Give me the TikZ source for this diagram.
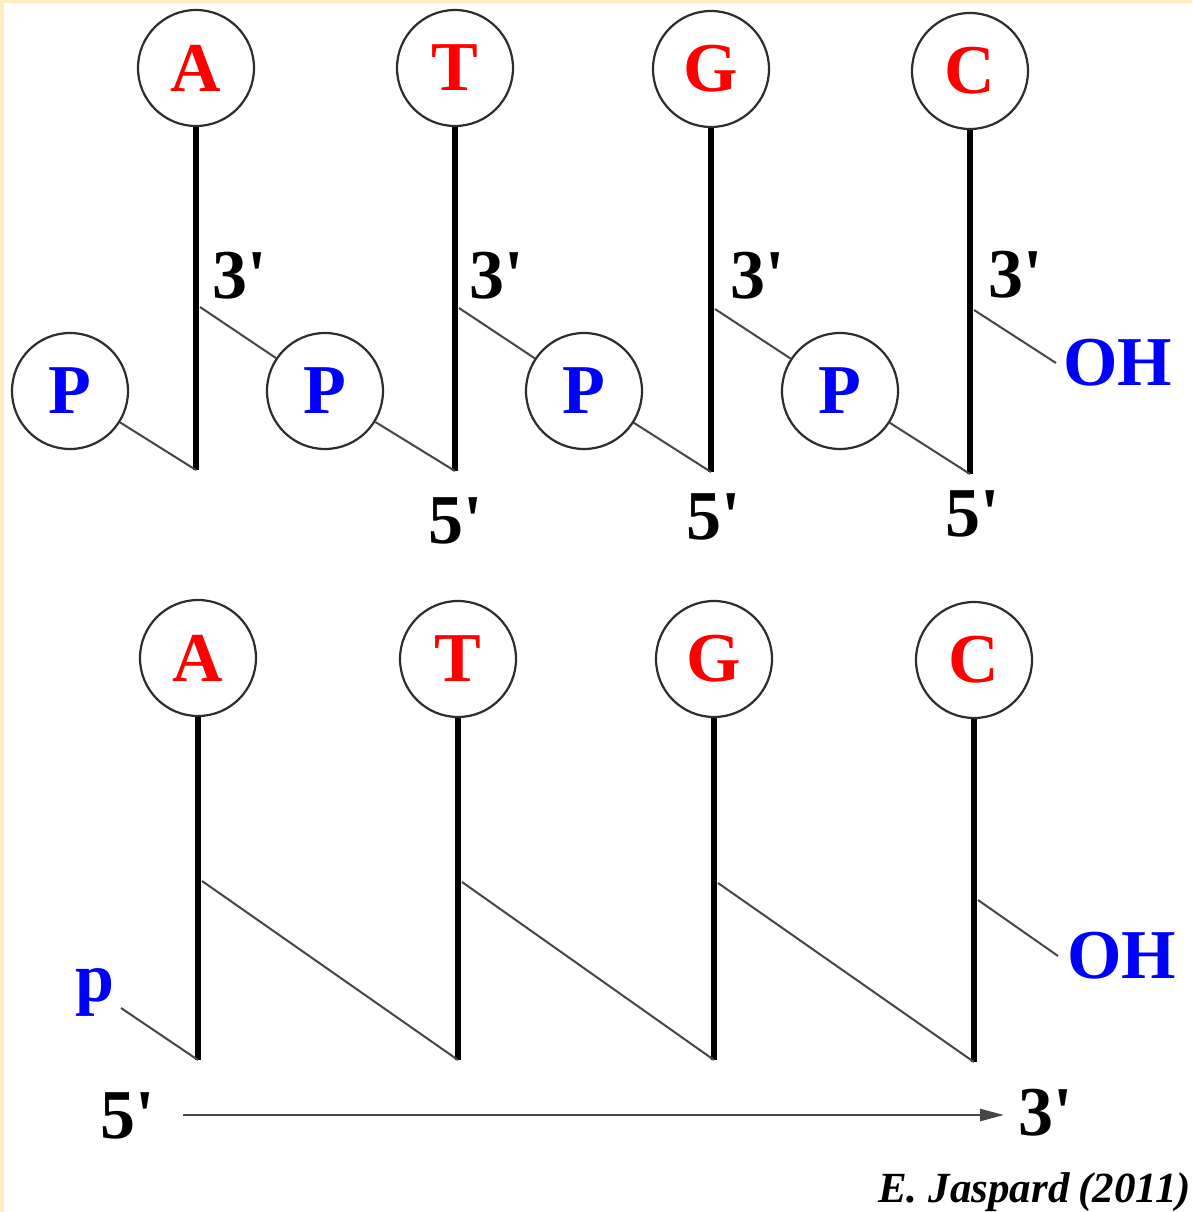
\documentclass[tikz,border=0pt]{standalone}
\usepackage{fontspec}
\newfontfamily\tf{Liberation Serif}
\usetikzlibrary{arrows.meta}
\definecolor{basecol}{RGB}{255,0,0}
\definecolor{phoscol}{RGB}{0,0,255}
\definecolor{ringcol}{RGB}{45,45,45}
\definecolor{thincol}{RGB}{70,70,70}
\definecolor{creamcol}{RGB}{252,238,192}
\begin{document}
\begin{tikzpicture}[x=1pt,y=-1pt,
  nuc/.style={circle,draw=ringcol,line width=2.2pt,minimum size=116pt,inner sep=0pt,
    font=\tf\bfseries\fontsize{70}{70}\selectfont},
  basec/.style={nuc,text=basecol},
  phosc/.style={nuc,text=phoscol},
  lbl/.style={inner sep=0pt,font=\tf\bfseries\fontsize{70}{70}\selectfont},
  ohlbl/.style={lbl,text=phoscol},
  stemline/.style={line width=6.5pt,line cap=butt},
  bond/.style={draw=thincol,line width=2pt},
  arrowline/.style={draw=thincol,line width=2.5pt,-{Triangle[length=24pt,width=12pt]}}]
\useasboundingbox (0,0) rectangle (1192,1212);
\fill[creamcol] (0,0) rectangle (1192,1212);
\fill[white] (4,3) rectangle (1192,1212);

% ---------- top row: free nucleotides ----------
\node[basec] (A1) at (196,68) {A};
\node[basec] (T1) at (455,68) {T};
\node[basec] (G1) at (711,69) {G};
\node[basec] (C1) at (970,71) {C};
\node[phosc] (P1) at (70,391) {P};
\node[phosc] (P2) at (325,391) {P};
\node[phosc] (P3) at (584,391) {P};
\node[phosc] (P4) at (840,391) {P};

\coordinate (b1) at (196,470);
\coordinate (b2) at (455,471);
\coordinate (b3) at (711,472);
\coordinate (b4) at (970,474);
\coordinate (j1) at (200,307);
\coordinate (j2) at (459,308);
\coordinate (j3) at (715,309);
\coordinate (j4) at (974,310);

\draw[stemline] (A1.south) -- (b1);
\draw[stemline] (T1.south) -- (b2);
\draw[stemline] (G1.south) -- (b3);
\draw[stemline] (C1.south) -- (b4);

\draw[bond] (P1) -- (b1);
\draw[bond] (P2) -- (b2);
\draw[bond] (P3) -- (b3);
\draw[bond] (P4) -- (b4);
\draw[bond] (j1) -- (P2);
\draw[bond] (j2) -- (P3);
\draw[bond] (j3) -- (P4);

\node[lbl] (t31) at (240,276) {3'};
\node[lbl] (t32) at (497,276) {3'};
\node[lbl] (t33) at (758,276) {3'};
\node[lbl] (t34) at (1016,275) {3'};
\node[lbl] (t52) at (456,521) {5'};
\node[lbl] (t53) at (714,517) {5'};
\node[lbl] (t54) at (973,514) {5'};
\node[ohlbl,anchor=west,inner xsep=7pt] (OH1) at (1056,363) {OH};
\draw[bond] (j4) -- (OH1.west);

% ---------- bottom row: polymer ----------
\node[basec] (A2) at (198,658) {A};
\node[basec] (T2) at (458,659) {T};
\node[basec] (G2) at (714,659) {G};
\node[basec] (C2) at (974,660) {C};

\coordinate (c1) at (198,1060);
\coordinate (c2) at (458,1060);
\coordinate (c3) at (714,1060);
\coordinate (c4) at (974,1062);
\coordinate (k1) at (202,881);
\coordinate (k2) at (462,882);
\coordinate (k3) at (718,883);
\coordinate (k4) at (978,900);

\draw[stemline] (A2.south) -- (c1);
\draw[stemline] (T2.south) -- (c2);
\draw[stemline] (G2.south) -- (c3);
\draw[stemline] (C2.south) -- (c4);

\draw[bond] (k1) -- (c2);
\draw[bond] (k2) -- (c3);
\draw[bond] (k3) -- (c4);

\node[ohlbl,anchor=west,inner xsep=9pt] (OH2) at (1058,956) {OH};
\draw[bond] (k4) -- (OH2.west);

\node[ohlbl] (pl) at (95,992) {p};
\coordinate (pe) at (121,1008);
\draw[bond] (pe) -- (c1);

\node[lbl] (f5) at (128,1116) {5'};
\node[lbl] (f3) at (1046,1113) {3'};
\coordinate (ar1) at (183,1115);
\coordinate (ar2) at (1004,1115);
\draw[arrowline] (ar1) -- (ar2);

\node[anchor=base west,inner sep=0pt,font=\tf\bfseries\itshape\fontsize{43}{43}\selectfont] (cred) at (878,1202) {E.\hspace{11pt}Jaspard\hspace{9pt}(2011)};
\end{tikzpicture}
\end{document}
